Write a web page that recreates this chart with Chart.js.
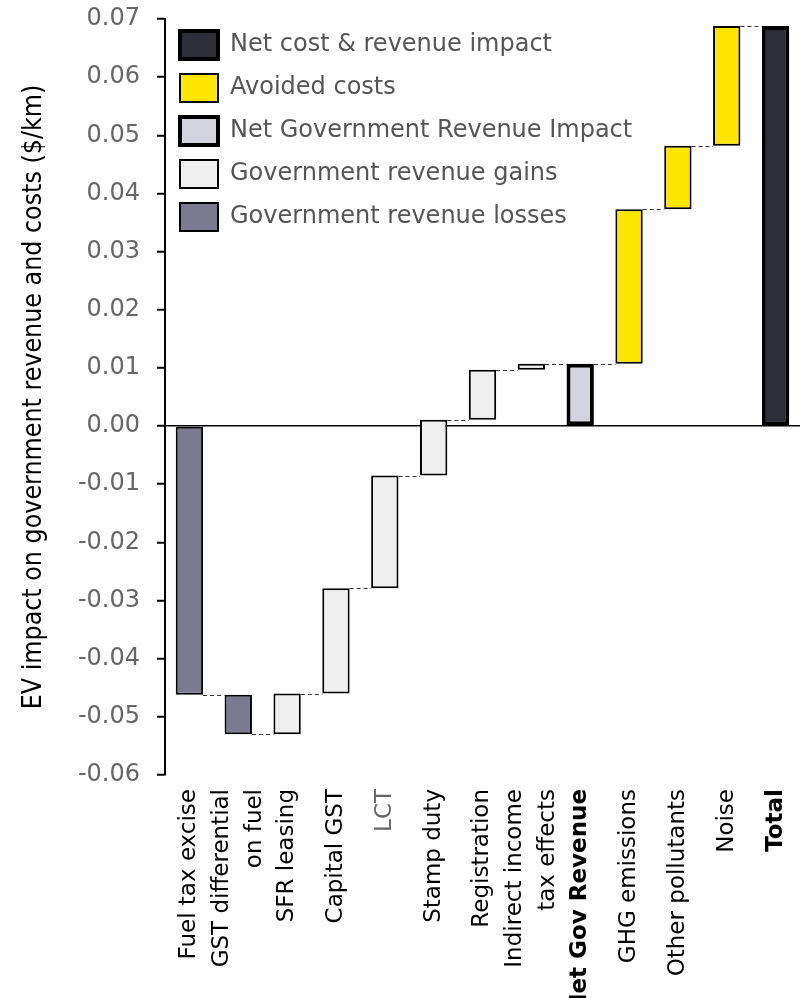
<!DOCTYPE html>
<html>
<head>
<meta charset="utf-8">
<script src="https://cdn.jsdelivr.net/npm/chart.js@4/dist/chart.umd.min.js"></script>
<style>
  html, body { margin: 0; padding: 0; background: #fff; }
  #wrap { width: 809px; height: 998px; }
</style>
</head>
<body>
<div id="wrap"><canvas id="evChart" width="809" height="998"></canvas></div>
<script>
// categories along the x axis
const categories = [
    'Fuel tax excise', ['GST differential', 'on fuel'], 'SFR leasing', 'Capital GST', 'LCT',
    'Stamp duty', 'Registration', ['Indirect income', 'tax effects'], 'Net Gov Revenue',
    'GHG emissions', 'Other pollutants', 'Noise', 'Total'
];
// waterfall bar bottoms / tops ($/km)
const barStart = [0, -0.0462, -0.0530, -0.0460, -0.0279, -0.0085, 0.0011, 0.0097, 0, 0.0107, 0.0373, 0.0482, 0];
const barEnd = [-0.0462, -0.0530, -0.0460, -0.0279, -0.0085, 0.0011, 0.0097, 0.0107, 0.0107, 0.0373, 0.0482, 0.0688, 0.0688];
const barKind = ['loss', 'loss', 'gain', 'gain', 'gain', 'gain', 'gain', 'gain', 'net', 'avoided', 'avoided', 'avoided', 'total'];

const legendNames = ['Net cost & revenue impact', 'Avoided costs', 'Net Government Revenue Impact', 'Government revenue gains', 'Government revenue losses'];
const legendKinds = ['total', 'avoided', 'net', 'gain', 'loss'];

const kindColor = { loss: '#7b7a8f', gain: '#efefef', net: '#d2d3dc', avoided: '#ffe600', total: '#2e2e38' };
const kindBorder = { loss: 2, gain: 2, net: 4, avoided: 2, total: 4 };

// dashed connectors between consecutive bars
const connectors = {
    id: 'connectors',
    afterDatasetsDraw(chart) {
        const ctx = chart.ctx;
        const bars = chart.getDatasetMeta(0).data;
        const y = chart.scales.y;
        ctx.save();
        ctx.strokeStyle = '#333';
        ctx.lineWidth = 1;
        ctx.setLineDash([4, 3]);
        for (let i = 0; i < bars.length - 1; i++) {
            const py = Math.round(y.getPixelForValue(barEnd[i])) + 0.5;
            ctx.beginPath();
            ctx.moveTo(bars[i].x + bars[i].width / 2, py);
            ctx.lineTo(bars[i + 1].x - bars[i + 1].width / 2, py);
            ctx.stroke();
        }
        ctx.restore();
    }
};

// centre two-line rotated labels on their tick instead of starting at it
const centerLabels = {
    id: 'centerLabels',
    beforeDraw(chart) {
        const items = chart.scales.x.getLabelItems();
        items.forEach(item => {
            const n = Array.isArray(item.label) ? item.label.length : 1;
            item.textOffset = (2 - n) * item.font.lineHeight / 2;
        });
    }
};

new Chart(document.getElementById('evChart'), {
    type: 'bar',
    data: {
        labels: categories,
        datasets: [{
            data: barStart.map((s, i) => [s, barEnd[i]]),
            backgroundColor: barKind.map(k => kindColor[k]),
            borderColor: '#000',
            borderWidth: barKind.map(k => kindBorder[k]),
            borderSkipped: false,
            barPercentage: 0.56,
            categoryPercentage: 1
        }]
    },
    options: {
        responsive: false,
        animation: false,
        layout: { padding: { top: 19, right: 9, left: 0, bottom: 0 } },
        plugins: {
            tooltip: { enabled: false },
            legend: {
                position: 'chartArea',
                align: 'start',
                title: { display: true, text: '', font: { size: 10 }, padding: { top: 2, bottom: 2 } },
                labels: {
                    boxWidth: 38,
                    boxHeight: 28,
                    padding: 15,
                    color: '#555',
                    font: { family: 'DejaVu Sans', size: 24 },
                    generateLabels: () => legendNames.map((name, i) => ({
                        text: name,
                        fillStyle: kindColor[legendKinds[i]],
                        strokeStyle: '#000',
                        lineWidth: kindBorder[legendKinds[i]],
                        fontColor: '#555',
                        hidden: false,
                        datasetIndex: 0
                    }))
                }
            }
        },
        scales: {
            x: {
                grid: { display: false },
                border: { display: false },
                afterFit: axis => { axis.height = 223; axis.paddingLeft = 0; axis.paddingRight = 0; },
                ticks: {
                    minRotation: 90,
                    maxRotation: 90,
                    autoSkip: false,
                    padding: 6,
                    color: ctx => ctx.index === 4 ? '#666' : '#000',
                    font: ctx => ({
                        family: 'DejaVu Sans',
                        size: 23,
                        lineHeight: 1.43,
                        weight: (ctx.index === 8 || ctx.index === 12) ? 'bold' : 'normal'
                    })
                }
            },
            y: {
                min: -0.06,
                max: 0.07,
                afterFit: axis => { axis.width = 165; axis.paddingTop = 0; axis.paddingBottom = 0; },
                border: { display: true, color: '#000', width: 2 },
                grid: {
                    drawTicks: true,
                    tickLength: 8,
                    tickColor: '#000',
                    tickWidth: 2,
                    color: ctx => (ctx.tick && Math.abs(ctx.tick.value) < 1e-9) ? '#000' : 'rgba(0,0,0,0)',
                    lineWidth: 1.5
                },
                ticks: {
                    stepSize: 0.01,
                    padding: 17,
                    color: '#666',
                    font: { family: 'DejaVu Sans', size: 24 },
                    callback: v => Math.abs(v) < 1e-9 ? '0.00' : v.toFixed(2)
                },
                title: {
                    display: true,
                    text: 'EV impact on government revenue and costs ($/km)',
                    color: '#000',
                    padding: { top: 18, bottom: 0 },
                    font: { family: "'DejaVu Sans Condensed', 'Liberation Sans Narrow', sans-serif", size: 26.5, weight: 'normal' }
                }
            }
        }
    },
    plugins: [connectors, centerLabels]
});
</script>
</body>
</html>
